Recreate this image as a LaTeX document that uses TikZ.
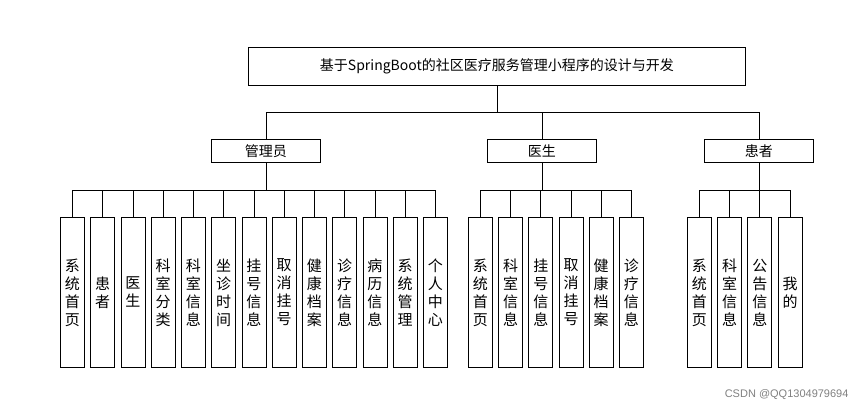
\documentclass[tikz,border=0pt]{standalone}
\usepackage{fontspec}
\setmainfont{Noto Sans CJK SC}
\newfontfamily\wm{Liberation Sans}
\begin{document}
\begin{tikzpicture}[x=1pt,y=-1pt,
  box/.style={draw,thick,inner sep=0pt,anchor=north west},
  leaf/.style={box,minimum width=24pt,minimum height=150pt,font=\fontsize{15}{18}\selectfont,align=center},
  line/.style={draw,thick}]
\useasboundingbox (0,0) rectangle (856,410);
\node[box,minimum width=497pt,minimum height=38pt,font=\fontsize{14}{16}\selectfont] (t) at (248,47) {基于SpringBoot的社区医疗服务管理小程序的设计与开发};
\node[box,minimum width=109pt,minimum height=23pt,font=\fontsize{14}{16}\selectfont] (a) at (211,139) {管理员};
\node[box,minimum width=109pt,minimum height=23pt,font=\fontsize{14}{16}\selectfont] (d) at (487,139) {医生};
\node[box,minimum width=109pt,minimum height=23pt,font=\fontsize{14}{16}\selectfont] (p) at (704,139) {患者};
\coordinate (tb) at (t.south|-0,112);
\draw[line] (t.south) -- (tb);
\draw[line] (a.north|-tb) -- (p.north|-tb);
\foreach \n in {a,d,p} \draw[line] (\n.north|-tb) -- (\n.north);
\foreach [count=\i from 0] \s in {系\\统\\首\\页,患\\者,医\\生,科\\室\\分\\类,科\\室\\信\\息,坐\\诊\\时\\间,挂\\号\\信\\息,取\\消\\挂\\号,健\\康\\档\\案,诊\\疗\\信\\息,病\\历\\信\\息,系\\统\\管\\理,个\\人\\中\\心}
  \node[leaf] (a\i) at (60+30.25*\i,217) {\s};
\foreach [count=\i from 0] \s in {系\\统\\首\\页,科\\室\\信\\息,挂\\号\\信\\息,取\\消\\挂\\号,健\\康\\档\\案,诊\\疗\\信\\息}
  \node[leaf] (d\i) at (468+30.2*\i,217) {\s};
\foreach [count=\i from 0] \s in {系\\统\\首\\页,科\\室\\信\\息,公\\告\\信\\息,我\\的}
  \node[leaf] (p\i) at (687+30.2*\i,217) {\s};
\coordinate (ab) at (0,190);
\draw[line] (a0.north|-ab) -- (a12.north|-ab);
\draw[line] (d0.north|-ab) -- (d5.north|-ab);
\draw[line] (p0.north|-ab) -- (p3.north|-ab);
\foreach \n in {a,d,p} \draw[line] (\n.south) -- (\n.south|-ab);
\foreach \i in {0,...,12} \draw[line] (a\i.north|-ab) -- (a\i.north);
\foreach \i in {0,...,5} \draw[line] (d\i.north|-ab) -- (d\i.north);
\foreach \i in {0,...,3} \draw[line] (p\i.north|-ab) -- (p\i.north);
\node[font=\wm\fontsize{11}{13}\selectfont,text=gray,anchor=east] (w) at (852,395) {CSDN @QQ1304979694};
\end{tikzpicture}
\end{document}
